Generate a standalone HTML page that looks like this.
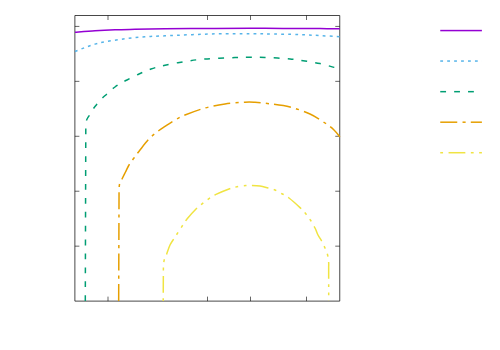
<!DOCTYPE html>
<html><head><meta charset="utf-8"><style>html,body{margin:0;padding:0;background:#fff;font-family:"Liberation Sans",sans-serif}svg{display:block}</style></head><body>
<svg width="500" height="350" viewBox="0 0 500 350">
<rect width="500" height="350" fill="#fff"/>
<path d="M108.00 301.11 V296.61 M108.00 15.50 V20.00 M207.50 301.11 V296.61 M207.50 15.50 V20.00 M250.50 301.11 V296.61 M250.50 15.50 V20.00 M306.50 301.11 V296.61 M306.50 15.50 V20.00 M74.89 246.17 H79.39 M339.75 246.17 H335.25 M74.89 191.23 H79.39 M339.75 191.23 H335.25 M74.89 136.29 H79.39 M339.75 136.29 H335.25 M74.89 81.35 H79.39 M339.75 81.35 H335.25 M74.89 26.41 H79.39 M339.75 26.41 H335.25" stroke="#000" stroke-width="0.6" fill="none"/>
<path d="M74.89 15.50 H339.75 V301.11 H74.89 Z" fill="none" stroke="#000" stroke-width="0.72"/>
<path d="M75.00 32.30 C78.33 32.04 88.33 31.17 95.00 30.75 C101.67 30.33 108.33 30.03 115.00 29.80 C121.67 29.57 126.67 29.51 135.00 29.35 C143.33 29.19 151.67 29.01 165.00 28.85 C178.33 28.69 200.83 28.49 215.00 28.40 C229.17 28.31 241.67 28.32 250.00 28.30 C258.33 28.28 256.67 28.27 265.00 28.30 C273.33 28.33 290.83 28.43 300.00 28.48 C309.17 28.53 313.37 28.56 320.00 28.62 C326.63 28.68 336.50 28.81 339.80 28.85" stroke="#9400D3" stroke-width="1.5" fill="none" stroke-linejoin="round"/>
<path d="M440.25 29H481.90V30H440.25Z" fill="#9400D3" fill-opacity="0.18"/>
<path d="M440.25 30H481.90V31H440.25Z" fill="#9400D3"/>
<path d="M440.25 31H481.90V32H440.25Z" fill="#9400D3" fill-opacity="0.32"/>
<path d="M75.00 51.50 C76.67 50.83 81.67 48.73 85.00 47.50 C88.33 46.27 91.67 45.10 95.00 44.15 C98.33 43.20 100.00 42.69 105.00 41.80 C110.00 40.91 118.33 39.63 125.00 38.80 C131.67 37.97 138.33 37.30 145.00 36.80 C151.67 36.30 153.33 36.29 165.00 35.80 C176.67 35.31 200.83 34.19 215.00 33.85 C229.17 33.51 241.67 33.75 250.00 33.75 C258.33 33.75 256.67 33.71 265.00 33.85 C273.33 33.99 290.83 34.31 300.00 34.60 C309.17 34.89 313.37 35.26 320.00 35.60 C326.63 35.94 336.50 36.48 339.80 36.65" stroke="#56B4E9" stroke-width="1.5" fill="none" stroke-linejoin="round" stroke-dasharray="2.8 4.14" stroke-dashoffset="0"/>
<path d="M440.25 60H443.05V61H440.25Z M447.19 60H449.99V61H447.19Z M454.13 60H456.93V61H454.13Z M461.07 60H463.87V61H461.07Z M468.01 60H470.81V61H468.01Z M474.95 60H477.75V61H474.95Z M481.89 60H481.90V61H481.89Z" fill="#56B4E9" fill-opacity="0.70"/>
<path d="M440.25 61H443.05V62H440.25Z M447.19 61H449.99V62H447.19Z M454.13 61H456.93V62H454.13Z M461.07 61H463.87V62H461.07Z M468.01 61H470.81V62H468.01Z M474.95 61H477.75V62H474.95Z M481.89 61H481.90V62H481.89Z" fill="#56B4E9" fill-opacity="0.80"/>
<path d="M85.30 301.00 L85.80 123.50 C85.86 123.12 85.85 122.12 86.15 121.20 C86.45 120.28 87.06 118.97 87.60 118.00 C88.14 117.03 88.80 116.40 89.40 115.40 C90.00 114.40 90.60 113.03 91.20 112.00 C91.80 110.97 92.37 110.12 93.00 109.20 C93.63 108.28 94.33 107.35 95.00 106.50 C95.67 105.65 96.17 105.08 97.00 104.10 C97.83 103.12 99.13 101.58 100.00 100.60 C100.87 99.62 101.10 99.27 102.20 98.20 C103.30 97.13 105.30 95.40 106.60 94.20 C107.90 93.00 108.60 92.20 110.00 91.00 C111.40 89.80 113.17 88.33 115.00 87.00 C116.83 85.67 119.00 84.17 121.00 83.00 C123.00 81.83 124.00 81.50 127.00 80.00 C130.00 78.50 135.00 75.83 139.00 74.00 C143.00 72.17 146.67 70.47 151.00 69.00 C155.33 67.53 159.33 66.45 165.00 65.20 C170.67 63.95 178.33 62.53 185.00 61.50 C191.67 60.47 196.67 59.65 205.00 59.00 C213.33 58.35 227.50 57.88 235.00 57.60 C242.50 57.32 245.00 57.33 250.00 57.30 C255.00 57.27 258.33 57.12 265.00 57.40 C271.67 57.68 283.33 58.40 290.00 59.00 C296.67 59.60 300.00 60.23 305.00 61.00 C310.00 61.77 315.17 62.53 320.00 63.60 C324.83 64.67 330.70 66.40 334.00 67.40 C337.30 68.40 338.83 69.23 339.80 69.60" stroke="#009E73" stroke-width="1.5" fill="none" stroke-linejoin="round" stroke-dasharray="5.8 8.1" stroke-dashoffset="0"/>
<path d="M440.25 90H446.05V91H440.25Z M454.15 90H459.95V91H454.15Z M468.05 90H473.85V91H468.05Z" fill="#009E73" fill-opacity="0.08"/>
<path d="M440.25 91H446.05V92H440.25Z M454.15 91H459.95V92H454.15Z M468.05 91H473.85V92H468.05Z" fill="#009E73"/>
<path d="M440.25 92H446.05V93H440.25Z M454.15 92H459.95V93H454.15Z M468.05 92H473.85V93H468.05Z" fill="#009E73" fill-opacity="0.42"/>
<path d="M118.67 301.00 L119.05 190.00 C119.14 189.00 119.11 185.83 119.60 184.00 C120.09 182.17 121.02 181.00 122.00 179.00 C122.98 177.00 124.33 174.33 125.50 172.00 C126.67 169.67 127.58 167.33 129.00 165.00 C130.42 162.67 132.17 160.50 134.00 158.00 C135.83 155.50 137.50 153.17 140.00 150.00 C142.50 146.83 146.17 142.00 149.00 139.00 C151.83 136.00 154.33 134.10 157.00 132.00 C159.67 129.90 162.00 128.40 165.00 126.40 C168.00 124.40 171.67 121.90 175.00 120.00 C178.33 118.10 180.00 117.00 185.00 115.00 C190.00 113.00 198.33 109.83 205.00 108.00 C211.67 106.17 218.33 104.97 225.00 104.00 C231.67 103.03 240.00 102.48 245.00 102.20 C250.00 101.92 250.83 102.03 255.00 102.30 C259.17 102.57 264.17 103.02 270.00 103.80 C275.83 104.58 283.33 105.30 290.00 107.00 C296.67 108.70 304.17 111.33 310.00 114.00 C315.83 116.67 321.00 120.33 325.00 123.00 C329.00 125.67 331.53 127.68 334.00 130.00 C336.47 132.32 338.83 135.75 339.80 136.90" stroke="#E69F00" stroke-width="1.5" fill="none" stroke-linejoin="round" stroke-dasharray="17 5.28 3.1 5.17" stroke-dashoffset="0"/>
<path d="M440.25 121H457.25V122H440.25Z M462.53 121H465.63V122H462.53Z M470.80 121H481.90V122H470.80Z" fill="#E69F00" fill-opacity="0.55"/>
<path d="M440.25 122H457.25V123H440.25Z M462.53 122H465.63V123H462.53Z M470.80 122H481.90V123H470.80Z" fill="#E69F00" fill-opacity="0.95"/>
<path d="M163.20 301.00 L163.40 266.00 C163.53 265.00 163.77 261.67 164.20 260.00 C164.63 258.33 165.03 258.50 166.00 256.00 C166.97 253.50 168.60 248.00 170.00 245.00 C171.40 242.00 173.23 239.83 174.40 238.00 C175.57 236.17 175.73 235.93 177.00 234.00 C178.27 232.07 180.33 228.90 182.00 226.40 C183.67 223.90 184.67 221.90 187.00 219.00 C189.33 216.10 193.43 211.57 196.00 209.00 C198.57 206.43 200.23 205.33 202.40 203.60 C204.57 201.87 206.73 200.13 209.00 198.60 C211.27 197.07 212.67 196.00 216.00 194.40 C219.33 192.80 225.50 190.27 229.00 189.00 C232.50 187.73 234.17 187.37 237.00 186.80 C239.83 186.23 243.50 185.83 246.00 185.60 C248.50 185.37 249.67 185.33 252.00 185.40 C254.33 185.47 257.33 185.57 260.00 186.00 C262.67 186.43 265.50 187.33 268.00 188.00 C270.50 188.67 272.60 189.00 275.00 190.00 C277.40 191.00 280.07 192.67 282.40 194.00 C284.73 195.33 286.07 195.73 289.00 198.00 C291.93 200.27 297.23 205.00 300.00 207.60 C302.77 210.20 303.87 211.53 305.60 213.60 C307.33 215.67 308.83 217.60 310.40 220.00 C311.97 222.40 313.73 225.50 315.00 228.00 C316.27 230.50 316.90 232.83 318.00 235.00 C319.10 237.17 320.43 238.83 321.60 241.00 C322.77 243.17 324.00 245.67 325.00 248.00 C326.00 250.33 326.99 252.67 327.60 255.00 C328.21 257.33 328.47 260.00 328.65 262.00 C328.83 264.00 328.67 266.17 328.67 267.00 L328.70 301.00" stroke="#F0E442" stroke-width="1.5" fill="none" stroke-linejoin="round" stroke-dasharray="16.8 5.5 2.8 5.5 2.8 5.5" stroke-dashoffset="30.6"/>
<path d="M440.25 151H443.05V152H440.25Z M448.55 151H465.35V152H448.55Z M470.85 151H473.65V152H470.85Z M479.15 151H481.90V152H479.15Z" fill="#F0E442" fill-opacity="0.03"/>
<path d="M440.25 152H443.05V153H440.25Z M448.55 152H465.35V153H448.55Z M470.85 152H473.65V153H470.85Z M479.15 152H481.90V153H479.15Z" fill="#F0E442"/>
<path d="M440.25 153H443.05V154H440.25Z M448.55 153H465.35V154H448.55Z M470.85 153H473.65V154H470.85Z M479.15 153H481.90V154H479.15Z" fill="#F0E442" fill-opacity="0.47"/>
</svg>
</body></html>
